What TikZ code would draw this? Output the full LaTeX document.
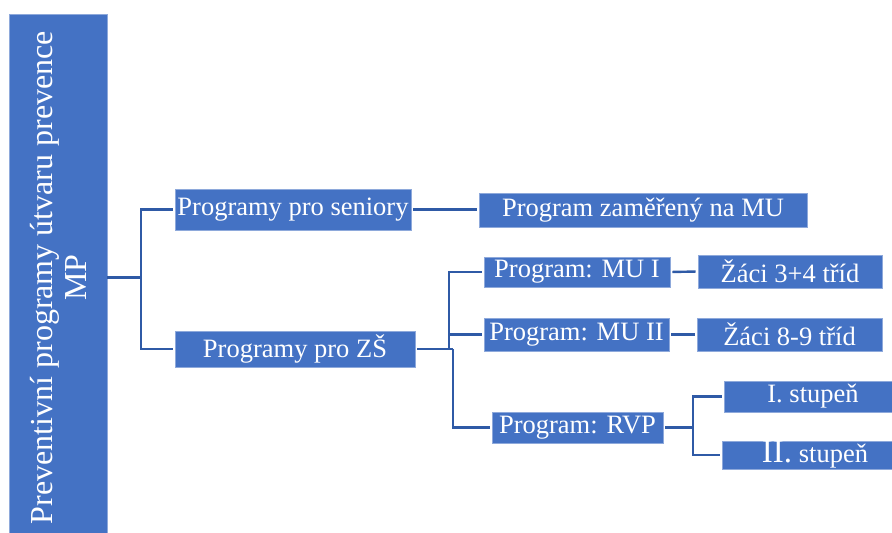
\documentclass[tikz,border=0pt]{standalone}
\usepackage{fontspec}
\setmainfont{Liberation Serif}
\usepackage{tikz}
\usetikzlibrary{positioning}
\definecolor{boxblue}{HTML}{4472C4}
\definecolor{boxrim}{HTML}{8EA9DB}
\definecolor{linkblue}{HTML}{2F5AA6}
\tikzset{
  prog/.style={rectangle, fill=boxblue, draw=boxrim, line width=0.6pt,
    text=white, inner sep=0pt, font=\fontsize{26.5}{28}\selectfont},
  link/.style={draw=linkblue, line width=2.4pt, shorten >=2pt},
  linkboth/.style={link, shorten <=2pt}
}

\begin{document}
\begin{tikzpicture}[x=1pt, y=-1pt]
        \useasboundingbox (0, 0) rectangle (892, 533);
        \clip (0, 0) rectangle (892, 533);
        \node[prog, rotate=90, minimum width=527, minimum height=98, align=center,
          font=\fontsize{32}{34}\selectfont] (root) at (58, 277.5)
          {Preventivní programy útvaru prevence\\MP};
        \node[prog, minimum width=236, minimum height=41] (senior) at (293, 209.5) {Programy pro seniory};
        \node[prog, minimum width=240, minimum height=36] (zs) at (295, 349) {Programy pro ZŠ};
        \node[prog, minimum width=328, minimum height=34] (muzam) at (643, 210) {Program zaměřený na MU};
        \node[prog, minimum width=186, minimum height=30] (mujedna) at (577, 272) {Program: MU I};
        \node[prog, minimum width=185, minimum height=33] (mudva) at (576.5, 334.5) {Program: MU II};
        \node[prog, minimum width=171, minimum height=31] (rvp) at (577.5, 427.5) {Program: RVP};
        \node[prog, minimum width=184, minimum height=33] (zaci34) at (790, 271.5) {Žáci 3+4 tříd};
        \node[prog, minimum width=185, minimum height=33] (zaci89) at (789.5, 334.5) {Žáci 8-9 tříd};
        \node[prog, minimum width=178, minimum height=31] (stupen1) at (813, 396.5) {I. stupeň};
        \node[prog, minimum width=186, minimum height=28] (stupen2) at (815, 455)
          {{\fontsize{33}{33}\selectfont II.} stupeň};

        \coordinate (jroot) at (141, 277.5);
        \coordinate (jmu) at (449, 349);
        \coordinate (jzs) at (453, 349);
        \coordinate (jrvp) at (693, 427.5);

        \draw[link, shorten >=0pt] (root.south) -- (jroot);
        \draw[link] (jroot) |- (senior.west);
        \draw[link] (jroot) |- (zs.west);
        \draw[linkboth] (senior.east) -- (senior.east -| muzam.west);
        \draw[linkboth, shorten >=0pt] (zs.east) -- (jzs);
        \draw[link] (jmu) |- (mujedna.west);
        \draw[link] (jmu) |- (mudva.west);
        \draw[link] (jzs) |- (rvp.west);
        \draw[linkboth] (mujedna.east) -- (zaci34.west);
        \draw[linkboth] (mudva.east) -- (zaci89.west);
        \draw[linkboth, shorten >=0pt] (rvp.east) -- (jrvp);
        \draw[link] (jrvp) |- (stupen1.west);
        \draw[link] (jrvp) |- (stupen2.west);
      \end{tikzpicture}
\end{document}
